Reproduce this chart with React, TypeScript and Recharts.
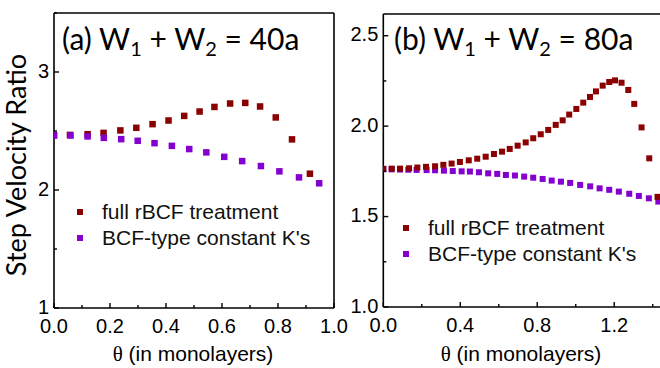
import React from 'react';
import {ScatterChart, Scatter, XAxis, YAxis, Legend} from 'recharts';

const RED = '#8b0000';
const PURPLE = '#8300cf';
const FULL_NAME = 'full rBCF treatment';
const CONST_NAME = "BCF-type constant K's";
const LEGEND_ORDER = [FULL_NAME, CONST_NAME];

// panel (a): W1 + W2 = 40a
const A_FULL_X = [0.0, 0.057, 0.12, 0.177, 0.237, 0.294, 0.352, 0.409, 0.465, 0.52, 0.573, 0.629, 0.683, 0.736, 0.792, 0.85, 0.914];
const A_FULL_Y = [2.465, 2.467, 2.473, 2.484, 2.505, 2.527, 2.558, 2.589, 2.628, 2.665, 2.704, 2.733, 2.738, 2.708, 2.615, 2.429, 2.138];
const A_CONST_X = [0.0, 0.059, 0.12, 0.178, 0.24, 0.299, 0.359, 0.421, 0.483, 0.544, 0.608, 0.672, 0.739, 0.805, 0.875, 0.947];
const A_CONST_Y = [2.462, 2.462, 2.454, 2.442, 2.431, 2.417, 2.397, 2.374, 2.347, 2.319, 2.281, 2.245, 2.203, 2.158, 2.107, 2.057];

// panel (b): W1 + W2 = 80a
const B_FULL_X = [0.0, 0.044, 0.087, 0.134, 0.177, 0.222, 0.269, 0.312, 0.355, 0.398, 0.444, 0.488, 0.532, 0.575, 0.617, 0.657, 0.698, 0.74, 0.779, 0.818, 0.857, 0.896, 0.932, 0.966, 1.003, 1.039, 1.074, 1.105, 1.14, 1.174, 1.204, 1.238, 1.273, 1.304, 1.342, 1.382, 1.425];
const B_FULL_Y = [1.764, 1.765, 1.765, 1.767, 1.771, 1.775, 1.778, 1.786, 1.793, 1.802, 1.811, 1.82, 1.831, 1.846, 1.859, 1.874, 1.892, 1.91, 1.933, 1.955, 1.979, 2.007, 2.032, 2.064, 2.095, 2.13, 2.161, 2.192, 2.224, 2.244, 2.253, 2.24, 2.2, 2.123, 1.993, 1.822, 1.609];
const B_CONST_X = [0.0, 0.043, 0.087, 0.13, 0.173, 0.225, 0.269, 0.315, 0.361, 0.407, 0.45, 0.497, 0.545, 0.592, 0.637, 0.684, 0.732, 0.779, 0.828, 0.875, 0.923, 0.971, 1.023, 1.075, 1.124, 1.174, 1.224, 1.278, 1.328, 1.38, 1.429];
const B_CONST_Y = [1.762, 1.761, 1.76, 1.759, 1.758, 1.757, 1.756, 1.754, 1.752, 1.75, 1.749, 1.745, 1.739, 1.736, 1.73, 1.727, 1.721, 1.715, 1.708, 1.699, 1.693, 1.686, 1.675, 1.667, 1.656, 1.648, 1.638, 1.626, 1.614, 1.601, 1.583];

const A_X_TICKS = [0, 0.1, 0.2, 0.3, 0.4, 0.5, 0.6, 0.7, 0.8, 0.9, 1.0];
const A_Y_TICKS = [1, 1.5, 2, 2.5, 3, 3.5];
const B_X_TICKS = [0, 0.2, 0.4, 0.6, 0.8, 1.0, 1.2, 1.4];
const B_Y_TICKS = [1, 1.25, 1.5, 1.75, 2, 2.25, 2.5];

const zip = (xs: number[], ys: number[]) => xs.map((x, i) => ({x, y: ys[i]}));

const multipleOf = (step: number) => (v: number) =>
  Math.abs(v / step - Math.round(v / step)) < 1e-6;

const TICK_FONT = {fontFamily: '"Liberation Sans", Arial, sans-serif', fontSize: 20, fill: '#000'};
const LABEL_FONT = '"Liberation Sans", Arial, sans-serif';
const TITLE_FONT = 'Lato, "Open Sans", sans-serif';

type Side = 'left' | 'right' | 'top' | 'bottom';

// axes are 1px thick boxes; ticks point into the plot
const makeTick =
  (side: Side, isMajor: (v: number) => boolean, fmt?: (v: number) => string) =>
  (props: any) => {
    const {x, y, payload} = props;
    const v = payload.value;
    const major = isMajor(v);
    const len = major ? 5 : 3;
    const dx = side === 'left' ? len : side === 'right' ? -len : 0;
    const dy = side === 'top' ? len : side === 'bottom' ? -len : 0;
    let label = null;
    if (fmt && major) {
      label =
        side === 'left' ? (
          <text x={x - 5} y={y - 1.5} textAnchor="end" dominantBaseline="central" {...TICK_FONT}>
            {fmt(v)}
          </text>
        ) : (
          <text x={x} y={y + 24.5} textAnchor="middle" {...TICK_FONT}>
            {fmt(v)}
          </text>
        );
    }
    return (
      <g>
        <line x1={x} y1={y} x2={x + dx} y2={y + dy} stroke="#000" strokeWidth={1.4} />
        {label}
      </g>
    );
  };

const square = (size: number) => (props: any) =>
  <rect x={props.cx - size / 2} y={props.cy - size / 2} width={size} height={size} fill={props.fill} />;

const COLOR_OF: {[k: string]: string} = {[FULL_NAME]: RED, [CONST_NAME]: PURPLE};

const legendContent = (props: any) => {
  const items = [...(props.payload ?? [])].sort(
    (a, b) => LEGEND_ORDER.indexOf(a.value) - LEGEND_ORDER.indexOf(b.value),
  );
  return (
    <div>
      {items.map((item) => (
        <div key={item.value} style={{display: 'flex', alignItems: 'center', height: 26.5}}>
          <span style={{width: 6, height: 6, background: COLOR_OF[item.value], marginRight: 19}} />
          <span style={{fontFamily: LABEL_FONT, fontSize: 21, whiteSpace: 'nowrap', color: '#111'}}>
            {item.value}
          </span>
        </div>
      ))}
    </div>
  );
};

const axisLine = {stroke: '#000', strokeWidth: 1.6};

const PanelA = () => (
  <ScatterChart width={360} height={368} margin={{top: 12, right: 25, bottom: 59, left: 0}}>
    <XAxis dataKey="x" type="number" domain={[0, 1]} ticks={A_X_TICKS} interval={0} allowDataOverflow
      height={1} tickSize={0} tickMargin={0} tickLine={false} axisLine={axisLine}
      tick={makeTick('bottom', multipleOf(0.2), (v) => v.toFixed(1))} />
    <XAxis xAxisId="top" orientation="top" type="number" domain={[0, 1]} ticks={A_X_TICKS} interval={0}
      height={1} tickSize={0} tickMargin={0} tickLine={false} axisLine={axisLine}
      tick={makeTick('top', multipleOf(0.2))} />
    <YAxis dataKey="y" type="number" domain={[1, 3.5]} ticks={A_Y_TICKS} interval={0} allowDataOverflow
      width={54} tickSize={0} tickMargin={0} tickLine={false} axisLine={axisLine}
      tick={makeTick('left', multipleOf(1), (v) => String(v))} />
    <YAxis yAxisId="right" orientation="right" type="number" domain={[1, 3.5]} ticks={A_Y_TICKS} interval={0}
      width={1} tickSize={0} tickMargin={0} tickLine={false} axisLine={axisLine}
      tick={makeTick('right', multipleOf(1))} />
    <Legend layout="vertical" align="center" verticalAlign="middle" content={legendContent}
      wrapperStyle={{left: 77, top: 198.5, width: 'auto', height: 'auto'}} />
    <Scatter name={FULL_NAME} data={zip(A_FULL_X, A_FULL_Y)} fill={RED} shape={square(6.5)} isAnimationActive={false} />
    <Scatter name={CONST_NAME} data={zip(A_CONST_X, A_CONST_Y)} fill={PURPLE} shape={square(6.5)} isAnimationActive={false} />
  </ScatterChart>
);

const PanelB = () => (
  <ScatterChart width={330} height={368} margin={{top: 13, right: 8, bottom: 60, left: 0}}>
    <XAxis dataKey="x" type="number" domain={[0, 1.443]} ticks={B_X_TICKS} interval={0} allowDataOverflow
      height={1} tickSize={0} tickMargin={0} tickLine={false} axisLine={axisLine}
      tick={makeTick('bottom', multipleOf(0.4), (v) => v.toFixed(1))} />
    <XAxis xAxisId="top" orientation="top" type="number" domain={[0, 1.443]} ticks={B_X_TICKS} interval={0}
      height={1} tickSize={0} tickMargin={0} tickLine={false} axisLine={axisLine}
      tick={makeTick('top', multipleOf(0.4))} />
    <YAxis dataKey="y" type="number" domain={[1, 2.62]} ticks={B_Y_TICKS} interval={0} allowDataOverflow
      width={43.3} tickSize={0} tickMargin={0} tickLine={false} axisLine={axisLine}
      tick={makeTick('left', multipleOf(0.5), (v) => v.toFixed(1))} />
    <YAxis yAxisId="right" orientation="right" type="number" domain={[1, 2.62]} ticks={B_Y_TICKS} interval={0}
      width={1} tickSize={0} tickMargin={0} tickLine={false} axisLine={axisLine}
      tick={makeTick('right', multipleOf(0.5))} />
    <Legend layout="vertical" align="center" verticalAlign="middle" content={legendContent}
      wrapperStyle={{left: 63, top: 214.5, width: 'auto', height: 'auto'}} />
    <Scatter name={CONST_NAME} data={zip(B_CONST_X, B_CONST_Y)} fill={PURPLE} shape={square(6)} isAnimationActive={false} />
    <Scatter name={FULL_NAME} data={zip(B_FULL_X, B_FULL_Y)} fill={RED} shape={square(6)} isAnimationActive={false} />
  </ScatterChart>
);

const Title = ({x, tag, total}: {x: number; tag: string; total: string}) => (
  <text x={x} y={50} fontFamily={TITLE_FONT} fontSize={30} fill="#000">
    <tspan>{`(${tag}) W`}</tspan>
    <tspan dy={6} fontSize={20}>1</tspan>
    <tspan dy={-6}>{' + W'}</tspan>
    <tspan dy={6} fontSize={20}>2</tspan>
    <tspan dy={-6}>{` = ${total}`}</tspan>
  </text>
);

const ThetaLabel = ({cx}: {cx: number}) => (
  <text x={cx} y={361} textAnchor="middle" fontFamily={LABEL_FONT} fontSize={21} fill="#000">
    <tspan fontFamily='"Liberation Serif", serif'>θ</tspan>
    <tspan>{' (in monolayers)'}</tspan>
  </text>
);

export default function App() {
  return (
    <div style={{position: 'absolute', left: 0, top: 0, width: 660, height: 368, overflow: 'hidden', background: '#fff'}}>
      <div style={{position: 'absolute', left: 0, top: 0}}>
        <PanelA />
      </div>
      <div style={{position: 'absolute', left: 340, top: 0}}>
        <PanelB />
      </div>
      <svg width={660} height={368} style={{position: 'absolute', left: 0, top: 0, pointerEvents: 'none'}}>
        <text transform="translate(26,165) rotate(-90)" textAnchor="middle" fontFamily={TITLE_FONT} fontSize={27} fill="#000">
          Step Velocity Ratio
        </text>
        <Title x={62} tag="a" total="40a" />
        <Title x={394} tag="b" total="80a" />
        <ThetaLabel cx={193} />
        <ThetaLabel cx={521} />
      </svg>
    </div>
  );
}
